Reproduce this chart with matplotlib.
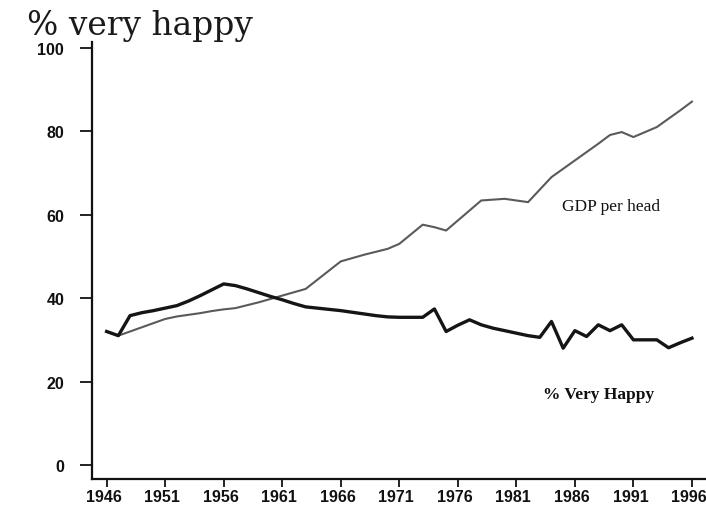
import numpy as np
import matplotlib
matplotlib.use("Agg")
import matplotlib.pyplot as plt
import matplotlib.transforms as mtransforms

# yearly series
years = np.arange(1946, 1997)
very_happy = [32.0, 31.0, 35.8, 36.5, 37.0, 37.6, 38.2, 39.3, 40.6, 42.0,
              43.4, 43.0, 42.2, 41.3, 40.4, 39.6, 38.7, 37.9, 37.6, 37.3,
              37.0, 36.6, 36.2, 35.8, 35.5, 35.4, 35.4, 35.4, 37.4, 32.0,
              33.5, 34.8, 33.6, 32.8, 32.2, 31.6, 31.0, 30.6, 34.4, 28.0,
              32.2, 30.8, 33.6, 32.2, 33.6, 30.0, 30.0, 30.0, 28.1, 29.3,
              30.4]
gdp_per_head = [32.0, 31.0, 32.0, 33.0, 34.0, 35.0, 35.6, 36.0, 36.4, 36.9,
                37.3, 37.6, 38.3, 39.0, 39.8, 40.6, 41.4, 42.2, 44.4, 46.6,
                48.8, 49.6, 50.4, 51.1, 51.8, 53.0, 55.3, 57.6, 57.0, 56.2,
                58.6, 61.0, 63.4, 63.6, 63.8, 63.4, 63.0, 66.0, 69.0, 71.0,
                73.0, 75.0, 77.0, 79.1, 79.8, 78.6, 79.8, 81.0, 83.0, 85.0,
                87.1]
xticks = [1946, 1951, 1956, 1961, 1966, 1971, 1976, 1981, 1986, 1991, 1996]
yticks = [0, 20, 40, 60, 80, 100]

fig = plt.figure(figsize=(7.06, 5.1), dpi=100)
ax = fig.add_axes([0.1303, 0.0588, 0.8697, 0.857])

ax.plot(years, gdp_per_head, color="#5a5a5a", lw=1.5)
ax.plot(years, very_happy, color="#151515", lw=2.4)

ax.set_xlim(1944.75, 1997.2)
ax.set_ylim(-3.36, 101.4)
ax.set_xticks(xticks)
ax.set_yticks(yticks)

for s in ["top", "right"]:
    ax.spines[s].set_visible(False)
for s in ["left", "bottom"]:
    ax.spines[s].set_linewidth(1.6)
    ax.spines[s].set_color("#111111")

ax.tick_params(axis="y", length=9, width=1.3, pad=11, color="#111111")
ax.tick_params(axis="x", length=6, width=1.3, pad=1, color="#111111")
for lab in ax.get_xticklabels() + ax.get_yticklabels():
    lab.set_fontfamily("Liberation Sans")
    lab.set_fontweight("bold")
    lab.set_fontsize(11.5)
    lab.set_color("#111111")
# labels in the scan sit a little left of their ticks
shift = mtransforms.ScaledTranslation(-3 / 100, 0, fig.dpi_scale_trans)
for lab in ax.get_xticklabels():
    lab.set_transform(lab.get_transform() + shift)

ax.text(1984.9, 62.1, "GDP per head", family="Liberation Serif",
        fontsize=12.5, color="#111111", va="center", ha="left")
ax.text(1983.3, 17.0, "% Very Happy", family="Liberation Serif",
        fontsize=12.5, weight="bold", color="#111111", va="center", ha="left")

fig.text(0.038, 0.931, "% very happy", family="DejaVu Serif",
         fontsize=23.7, color="#1a1a1a", va="baseline", ha="left")

fig.savefig("out.png", dpi=100)
plt.close()
